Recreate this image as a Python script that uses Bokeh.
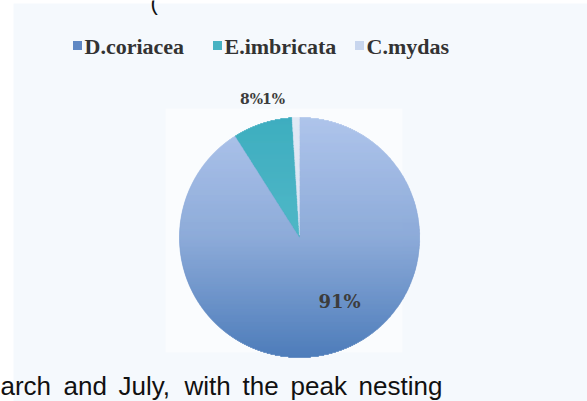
import numpy as np
from bokeh.plotting import figure
from bokeh.models import Range1d
from bokeh.core.properties import value
from bokeh.embed import file_html
from bokeh.resources import INLINE

# ---- data ----
species = ["D.coriacea", "E.imbricata", "C.mydas"]
shares = [91, 8, 1]
pct_labels = ["91%", "8%", "1%"]
legend_colors = ["#5f88c4", "#48b3c3", "#c8d6ee"]
grad_stops = [["#abc2ea", "#88a7d7", "#4677b7"],
              ["#36aabd", "#48b4c4", "#5cbfcc"],
              ["#dfe7f5", "#d8e2f3", "#cfdcf1"]]
doc_words = ["arch", "and", "July,", "with", "the", "peak", "nesting"]

# ---- layout ----
W, H = 587, 401
cx, cy, r = 299.0, 237.0, 120.0
label_pos = [(339, 301), (251, 98), (273, 98)]
legend_sq_x = [77, 217, 359]
legend_y = 45
word_x = [0, 63, 118, 184, 242, 290, 358]
word_y = 385


def hex2rgb(h):
    h = h.lstrip("#")
    return np.array([int(h[i:i + 2], 16) for i in (0, 2, 4)], dtype=float)


def grad(stops, t):
    n = len(stops) - 1
    pos = min(max(t, 0.0), 1.0) * n
    i = min(int(pos), n - 1)
    f = pos - i
    c = hex2rgb(stops[i]) * (1 - f) + hex2rgb(stops[i + 1]) * f
    return "#%02x%02x%02x" % tuple(int(round(v)) for v in c)


p = figure(width=W, height=H, x_range=Range1d(0, W), y_range=Range1d(H, 0),
           output_backend="svg", toolbar_location=None, min_border=0)
p.axis.visible = False
p.grid.visible = False
p.outline_line_color = None
p.background_fill_color = "#ffffff"
p.border_fill_color = "#ffffff"

# page panel
p.quad(left=13, right=W, top=3, bottom=H, fill_color="#f5f9fd", line_color=None)
# soft white plot area behind pie
p.quad(left=165, right=402, top=108, bottom=352, fill_color="#ffffff",
       fill_alpha=0.5, line_color=None)

# ---- pie wedges built from data (clockwise from 12 o'clock) ----
total = float(sum(shares))
edges = np.concatenate([[0.0], np.cumsum(shares) / total * 360.0])
L, R, T, B, C = [], [], [], [], []
step = 0.25
for y0 in np.arange(cy - r, cy + r, 1.0):
    yc = y0 + 0.5
    dy = cy - yc
    if abs(dy) >= r:
        continue
    w = np.sqrt(r * r - dy * dy)
    xs = np.arange(cx - w, cx + w, step) + step / 2
    theta = np.degrees(np.arctan2(xs - cx, dy)) % 360.0
    t = (y0 - (cy - r)) / (2 * r)
    for i in range(len(shares)):
        m = (theta >= edges[i]) & (theta < edges[i + 1])
        if not m.any():
            continue
        d = np.diff(np.concatenate([[0], m.astype(int), [0]]))
        starts = np.where(d == 1)[0]
        ends = np.where(d == -1)[0] - 1
        col = grad(grad_stops[i], t)
        for s, e in zip(starts, ends):
            L.append(xs[s] - step / 2)
            R.append(xs[e] + step / 2)
            T.append(y0)
            B.append(y0 + 1.0)
            C.append(col)

p.quad(left=L, right=R, top=T, bottom=B, fill_color=C, line_color=C, line_width=0.6)

# percentage labels
p.text(x=[q[0] for q in label_pos], y=[q[1] for q in label_pos], text=pct_labels,
       text_font=value("DejaVu Serif"), text_font_style="bold",
       text_font_size=["18px", "14px", "14px"], text_color="#3c3c3c",
       text_align="center", text_baseline="middle")

# legend
p.rect(x=legend_sq_x, y=[legend_y] * 3, width=9, height=9,
       fill_color=legend_colors, line_color=None)
p.text(x=[x + 7 for x in legend_sq_x], y=[legend_y + 1] * 3, text=species,
       text_font=value("Liberation Serif"), text_font_style="bold",
       text_font_size="22px", text_color="#333333",
       text_align="left", text_baseline="middle")

# surrounding document text
p.text(x=word_x, y=[word_y] * len(doc_words), text=doc_words,
       text_font=value("Liberation Sans"), text_font_size="26px",
       text_color="#111111", text_align="left", text_baseline="alphabetic")
p.text(x=[150], y=[2], text=["("], text_font=value("Liberation Sans"),
       text_font_size="22px", text_color="#111111", text_baseline="alphabetic")

open("out.html", "w").write(file_html(p, INLINE))
